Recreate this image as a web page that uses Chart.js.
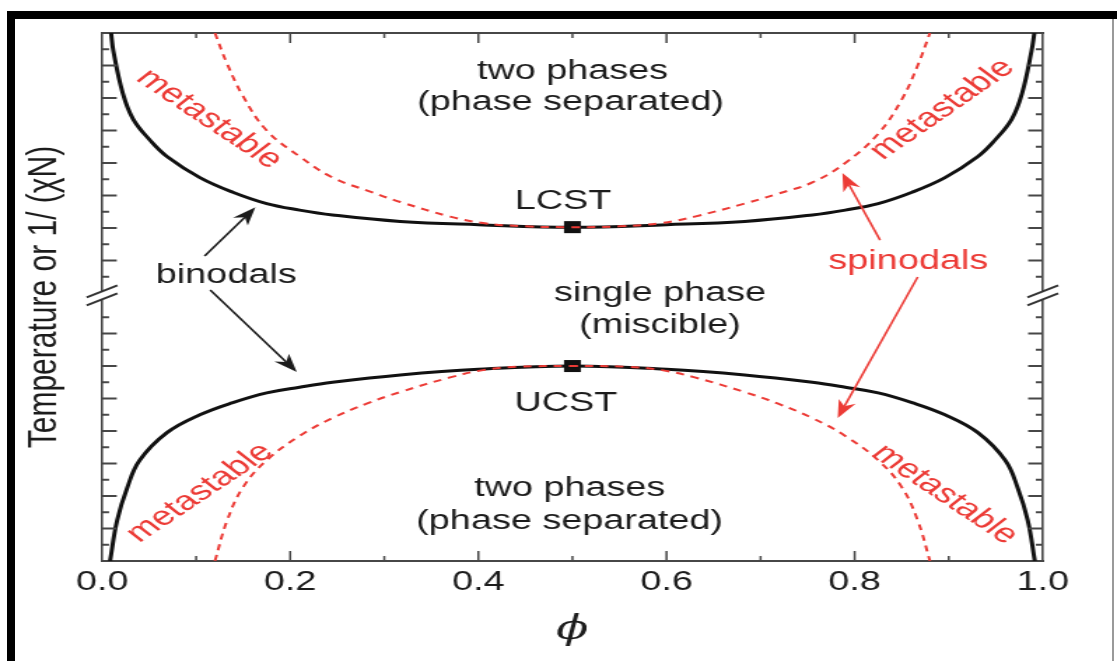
<!DOCTYPE html>
<html>
<head>
<meta charset="utf-8">
<script src="https://cdn.jsdelivr.net/npm/chart.js@4.4.0/dist/chart.umd.min.js"></script>
<style>
  html, body { margin: 0; padding: 0; background: #fff; overflow: hidden; }
  #frame { position: absolute; left: 7px; top: 11px; width: 1110px; height: 650px; box-sizing: border-box;
           border-top: 8px solid #000; border-left: 8px solid #000; }
  #edge { position: absolute; left: 1112px; top: 19px; width: 2px; height: 642px; background: #9a9a9a; }
  #phase { position: absolute; left: 0; top: 0; }
</style>
</head>
<body>
<div id="frame"></div>
<div id="edge"></div>
<!-- drawn narrow, shown wide -->
<canvas id="phase" width="798" height="661" style="width:1117px;height:661px"></canvas>
<script>
// composition phi vs. temperature (arbitrary units, broken axis)
const phiLcstBinodal = [0.0096, 0.012, 0.022, 0.033, 0.051, 0.069, 0.104, 0.139, 0.175, 0.210, 0.245, 0.317, 0.400, 0.500,
                        0.600, 0.683, 0.755, 0.790, 0.825, 0.861, 0.896, 0.931, 0.949, 0.967, 0.978, 0.988, 0.991];
const tLcstBinodal = [32.5, 31.4, 28.8, 27.2, 25.9, 24.9, 23.6, 22.7, 22.0, 21.6, 21.3, 20.9, 20.7, 20.55,
                      20.7, 20.9, 21.3, 21.6, 22.0, 22.7, 23.6, 24.9, 25.9, 27.2, 28.8, 31.4, 32.5];

const phiLcstSpinodal = [0.120, 0.133, 0.150, 0.175, 0.210, 0.245, 0.282, 0.317, 0.370, 0.405, 0.450, 0.500,
                         0.550, 0.595, 0.630, 0.683, 0.718, 0.755, 0.790, 0.825, 0.850, 0.867, 0.880];
const tLcstSpinodal = [32.5, 30.6, 28.6, 26.5, 24.9, 23.6, 22.8, 22.1, 21.2, 20.8, 20.6, 20.55,
                       20.6, 20.8, 21.2, 22.0, 22.6, 23.3, 24.5, 26.3, 28.4, 30.5, 32.5];

const phiUcstBinodal = [0.0085, 0.016, 0.027, 0.040, 0.069, 0.104, 0.139, 0.175, 0.210, 0.245, 0.317, 0.400, 0.500,
                        0.600, 0.683, 0.755, 0.790, 0.825, 0.861, 0.896, 0.931, 0.960, 0.973, 0.984, 0.9915];
const tUcstBinodal = [0.0, 2.5, 4.55, 6.2, 7.9, 9.0, 9.75, 10.35, 10.7, 11.0, 11.45, 11.8, 12.0,
                      11.8, 11.45, 11.0, 10.7, 10.35, 9.75, 9.0, 7.9, 6.2, 4.55, 2.5, 0.0];

const phiUcstSpinodal = [0.120, 0.133, 0.150, 0.175, 0.210, 0.245, 0.282, 0.317, 0.370, 0.405, 0.440, 0.500,
                         0.560, 0.595, 0.630, 0.683, 0.718, 0.755, 0.790, 0.825, 0.850, 0.867, 0.880];
const tUcstSpinodal = [0.0, 2.5, 4.55, 6.2, 7.7, 8.8, 9.7, 10.4, 11.3, 11.75, 11.95, 12.0,
                       11.95, 11.75, 11.3, 10.4, 9.7, 8.8, 7.7, 6.2, 4.55, 2.5, 0.0];

const criticalPhi = [0.5, 0.5];
const criticalT = [20.55, 12.0];

const xTicks = [0.1, 0.2, 0.3, 0.4, 0.5, 0.6, 0.7, 0.8, 0.9];
const xLabelTicks = [0.0, 0.2, 0.4, 0.6, 0.8, 1.0];
const yTicksLower = [1, 2, 3, 4, 5, 6, 7, 8, 9, 10, 11, 12, 13, 14, 15];
const yTicksUpper = [17.5, 18.5, 19.5, 20.5, 21.5, 22.5, 23.5, 24.5, 25.5, 26.5, 27.5, 28.5, 29.5, 30.5, 31.5];
const yBreak = 16.35;

const RED = '#ec3b36';
const INK = '#1c1c1c';
const AXIS = '#474747';
const FONT = '"Liberation Sans", Arial, Helvetica, sans-serif';

// text placed in data units
const notes = [
  { text: 'two phases', x: 0.500, y: 30.15, color: INK },
  { text: '(phase separated)', x: 0.498, y: 28.2, color: INK },
  { text: 'LCST', x: 0.490, y: 22.1, color: INK },
  { text: 'single phase', x: 0.593, y: 16.45, color: INK },
  { text: '(miscible)', x: 0.593, y: 14.5, color: INK },
  { text: 'UCST', x: 0.493, y: 9.7, color: INK },
  { text: 'two phases', x: 0.497, y: 4.45, color: INK },
  { text: '(phase separated)', x: 0.497, y: 2.45, color: INK },
  { text: 'binodals', x: 0.132, y: 17.55, color: INK },
  { text: 'spinodals', x: 0.857, y: 18.45, color: RED },
  { text: 'metastable', x: 0.114, y: 27.2, color: RED, angle: 43 },
  { text: 'metastable', x: 0.893, y: 27.8, color: RED, angle: -44 },
  { text: 'metastable', x: 0.104, y: 4.2, color: RED, angle: -43 },
  { text: 'metastable', x: 0.896, y: 4.1, color: RED, angle: 43 },
];

const arrows = [
  { from: [0.109, 18.77], to: [0.163, 21.78], color: INK },
  { from: [0.115, 16.68], to: [0.207, 11.63], color: INK },
  { from: [0.827, 19.75], to: [0.787, 23.88], color: RED },
  { from: [0.867, 17.48], to: [0.782, 8.80], color: RED },
];

const pts = (xs, ys) => xs.map((x, i) => ({ x, y: ys[i] }));

function drawArrow(ctx, x1, y1, x2, y2, color) {
  const a = Math.atan2(y2 - y1, x2 - x1);
  const c = Math.cos(a), s = Math.sin(a);
  const len = 18, half = 6.5;
  ctx.strokeStyle = color;
  ctx.fillStyle = color;
  ctx.lineWidth = 1.6;
  ctx.beginPath();
  ctx.moveTo(x1, y1);
  ctx.lineTo(x2 - len * 0.7 * c, y2 - len * 0.7 * s);
  ctx.stroke();
  ctx.beginPath();
  ctx.moveTo(x2, y2);
  ctx.lineTo(x2 - len * c - half * s, y2 - len * s + half * c);
  ctx.lineTo(x2 - len * 0.7 * c, y2 - len * 0.7 * s);
  ctx.lineTo(x2 - len * c + half * s, y2 - len * s - half * c);
  ctx.closePath();
  ctx.fill();
}

const decorations = {
  id: 'decorations',
  afterDatasetsDraw(chart) {
    const { ctx, chartArea: area, scales: { x, y } } = chart;
    ctx.save();

    // inward tick marks on all four sides
    ctx.strokeStyle = AXIS;
    ctx.lineWidth = 1.5;
    xTicks.forEach((v) => {
      const px = x.getPixelForValue(v);
      const len = Math.round(v * 10) % 2 === 0 ? 10 : 5;
      ctx.beginPath();
      ctx.moveTo(px, area.bottom); ctx.lineTo(px, area.bottom - len);
      ctx.moveTo(px, area.top); ctx.lineTo(px, area.top + len);
      ctx.stroke();
    });
    ctx.lineWidth = 2;
    const yTick = (v, long) => {
      const py = y.getPixelForValue(v);
      const len = long ? 10.5 : 5;
      ctx.beginPath();
      ctx.moveTo(area.left, py); ctx.lineTo(area.left + len, py);
      ctx.moveTo(area.right, py); ctx.lineTo(area.right - len, py);
      ctx.stroke();
    };
    yTicksLower.forEach((v) => yTick(v, v % 2 === 0));
    yTicksUpper.forEach((v) => yTick(v, Math.round(v - 17.5) % 2 === 1));

    // axis break marks
    const yb = y.getPixelForValue(yBreak);
    [area.left, area.right].forEach((ax) => {
      ctx.fillStyle = '#fff';
      ctx.beginPath();
      ctx.moveTo(ax - 11, yb - 4 + 6); ctx.lineTo(ax + 11, yb - 4 - 6);
      ctx.lineTo(ax + 11, yb + 4 - 6); ctx.lineTo(ax - 11, yb + 4 + 6);
      ctx.closePath();
      ctx.fill();
      ctx.strokeStyle = '#333';
      ctx.lineWidth = 1.8;
      ctx.beginPath();
      ctx.moveTo(ax - 11, yb - 4 + 6); ctx.lineTo(ax + 11, yb - 4 - 6);
      ctx.moveTo(ax - 11, yb + 4 + 6); ctx.lineTo(ax + 11, yb + 4 - 6);
      ctx.stroke();
    });

    arrows.forEach((a) => drawArrow(ctx,
      x.getPixelForValue(a.from[0]), y.getPixelForValue(a.from[1]),
      x.getPixelForValue(a.to[0]), y.getPixelForValue(a.to[1]), a.color));

    ctx.font = `27px ${FONT}`;
    ctx.textAlign = 'center';
    ctx.textBaseline = 'middle';
    notes.forEach((n) => {
      ctx.save();
      ctx.translate(x.getPixelForValue(n.x), y.getPixelForValue(n.y));
      if (n.angle) ctx.rotate(n.angle * Math.PI / 180);
      ctx.fillStyle = n.color;
      ctx.fillText(n.text, 0, 0);
      ctx.restore();
    });
    ctx.restore();
  },
};

const hiddenAxis = (position, min, max) => ({
  type: 'linear', position, min, max,
  grid: { display: false, drawTicks: false },
  ticks: { display: false },
  border: { color: AXIS, width: position === 'right' ? 1.6 : 2 },
});

const curve = (xs, ys, color, width, dash) => ({
  data: pts(xs, ys), showLine: true, borderColor: color, borderWidth: width,
  borderDash: dash || [], pointRadius: 0, tension: 0.4,
});

new Chart(document.getElementById('phase'), {
  type: 'scatter',
  data: {
    datasets: [
      curve(phiLcstSpinodal, tLcstSpinodal, RED, 2, [6, 5]),
      curve(phiUcstSpinodal, tUcstSpinodal, RED, 2, [6, 5]),
      curve(phiLcstBinodal, tLcstBinodal, '#111', 3),
      curve(phiUcstBinodal, tUcstBinodal, '#111', 3),
      { data: pts(criticalPhi, criticalT), pointStyle: 'rect', pointRadius: 8.5,
        backgroundColor: '#111', borderColor: '#111', borderWidth: 0 },
    ],
  },
  options: {
    responsive: false,
    animation: false,
    devicePixelRatio: 1,
    layout: { padding: { left: 13.9, right: 53, top: 33, bottom: 10.6 } },
    plugins: { legend: { display: false }, tooltip: { enabled: false } },
    scales: {
      x: {
        type: 'linear', position: 'bottom', min: 0, max: 1,
        afterBuildTicks: (scale) => { scale.ticks = xLabelTicks.map((value) => ({ value })); },
        ticks: { callback: (v) => v.toFixed(1), font: { family: FONT, size: 27 }, color: INK, padding: 5.5, maxRotation: 0 },
        grid: { display: false, drawTicks: false },
        border: { color: AXIS, width: 2 },
        title: { display: true, text: 'ϕ', color: INK, font: { family: '"DejaVu Serif", serif', size: 34, style: 'italic' },
                 padding: { top: 5.2, bottom: 0 } },
      },
      xTop: hiddenAxis('top', 0, 1),
      y: {
        type: 'linear', position: 'left', min: 0, max: 32.5,
        grid: { display: false, drawTicks: false },
        ticks: { display: false },
        border: { color: AXIS, width: 1.6 },
        title: { display: true, text: 'Temperature or 1/ (χN)', color: INK, font: { family: FONT, size: 30 },
                 padding: { top: 0, bottom: 23 } },
      },
      yRight: hiddenAxis('right', 0, 32.5),
    },
  },
  plugins: [decorations],
});
</script>
</body>
</html>
